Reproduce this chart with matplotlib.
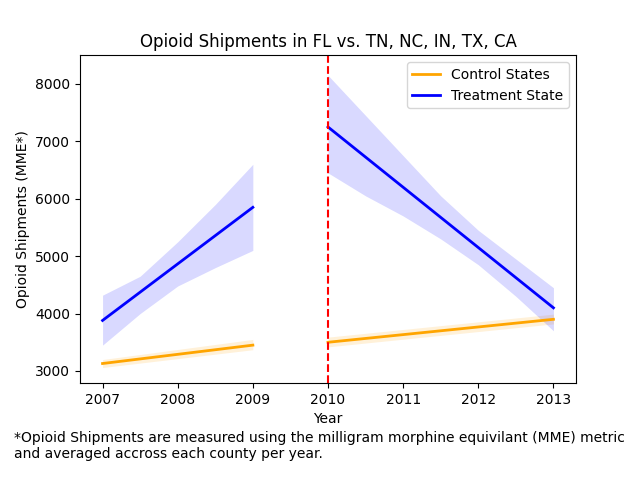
import matplotlib
matplotlib.use("Agg")
import matplotlib.pyplot as plt

# Regression lines (pre / post policy)
pre_years = [2007, 2009]
post_years = [2010, 2013]
ctrl_pre = [3130, 3450]
ctrl_post = [3500, 3900]
treat_pre = [3880, 5850]
treat_post = [7250, 4100]

# Confidence bands
band_pre_x = [2007, 2007.5, 2008, 2008.5, 2009]
treat_pre_lo = [3450, 4000, 4480, 4800, 5100]
treat_pre_hi = [4320, 4650, 5250, 5900, 6600]
band_post_x = [2010, 2010.5, 2011, 2011.5, 2012, 2012.5, 2013]
treat_post_lo = [6450, 6050, 5700, 5300, 4850, 4300, 3700]
treat_post_hi = [8150, 7450, 6750, 6050, 5450, 4950, 4450]
ctrl_pre_lo = [3060, 3370]
ctrl_pre_hi = [3200, 3550]
ctrl_post_lo = [3420, 3820]
ctrl_post_hi = [3590, 3990]

fig, ax = plt.subplots(figsize=(6.4, 4.8))
fig.subplots_adjust(left=0.125, right=0.9, top=0.885, bottom=0.202)

ax.fill_between(pre_years, ctrl_pre_lo, ctrl_pre_hi, color="orange", alpha=0.15, lw=0)
ax.fill_between(post_years, ctrl_post_lo, ctrl_post_hi, color="orange", alpha=0.15, lw=0)
ax.fill_between(band_pre_x, treat_pre_lo, treat_pre_hi, color="blue", alpha=0.15, lw=0)
ax.fill_between(band_post_x, treat_post_lo, treat_post_hi, color="blue", alpha=0.15, lw=0)

ax.plot(pre_years, ctrl_pre, color="orange", lw=2, label="Control States")
ax.plot(post_years, ctrl_post, color="orange", lw=2)
ax.plot(pre_years, treat_pre, color="blue", lw=2, label="Treatment State")
ax.plot(post_years, treat_post, color="blue", lw=2)

ax.axvline(2010, color="red", linestyle="--")

ax.set_ylim(2790, 8500)
ax.set_xlim(2006.7, 2013.3)
ax.set_title("Opioid Shipments in FL vs. TN, NC, IN, TX, CA")
ax.set_xlabel("Year")
ax.set_ylabel("Opioid Shipments (MME*)")
ax.legend(loc="upper right")

fig.text(0.022, 0.04,
         "*Opioid Shipments are measured using the milligram morphine equivilant (MME) metric\n"
         "and averaged accross each county per year.", fontsize=10, ha="left", va="bottom")

fig.savefig("out.png", dpi=100)
